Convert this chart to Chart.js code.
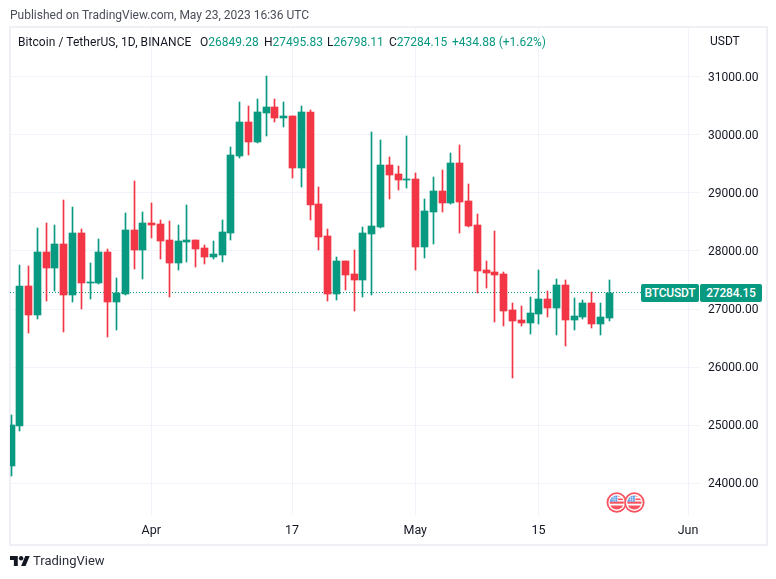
<!DOCTYPE html>
<html>
<head>
<meta charset="utf-8">
<script src="https://cdn.jsdelivr.net/npm/chart.js@4/dist/chart.umd.min.js"></script>
<style>
html,body{margin:0;padding:0;background:#fff;width:776px;height:579px;overflow:hidden}
body{position:relative;font-family:Roboto,sans-serif;font-size:12px;color:#131722}
#frame{position:absolute;left:9px;top:26px;width:755px;height:516px;border:2px solid #eff0f5;z-index:0}
canvas{position:absolute;left:0;top:0;z-index:1}
.t{position:absolute;white-space:nowrap;z-index:2;line-height:16px}
.g{color:#089981}
.tag{position:absolute;top:284px;height:18px;line-height:18px;background:#089981;color:#fff;text-align:center;z-index:2;font-weight:500;border-radius:2px;letter-spacing:-.2px}
svg{position:absolute;z-index:2}
</style>
</head>
<body>
<div id="frame"></div>
<canvas id="c" width="776" height="579"></canvas>
<div class="t" style="left:10px;top:7px;color:#4a4e59">Published on TradingView.com, May 23, 2023 16:36 UTC</div>
<div class="t" style="left:18px;top:34px;letter-spacing:.06px">Bitcoin / TetherUS, 1D, BINANCE</div>
<div class="t" style="left:200px;top:34px">O<span class="g">26849.28</span></div>
<div class="t" style="left:264px;top:34px">H<span class="g">27495.83</span></div>
<div class="t" style="left:327px;top:34px">L<span class="g">26798.11</span></div>
<div class="t" style="left:389px;top:34px">C<span class="g">27284.15</span></div>
<div class="t g" style="left:452px;top:34px">+434.88 (+1.62%)</div>
<div class="t" style="left:710px;top:33px">USDT</div>
<div class="tag" style="left:641px;width:58px">BTCUSDT</div>
<div class="tag" style="left:700px;width:62px">27284.15</div>
<svg style="left:10px;top:556px" width="20" height="10" viewBox="0 4 36 18"><path fill="#131722" d="M14 22H7V11H0V4h14v18zM28 22h-8l7.5-18h8L28 22z"/><circle fill="#131722" cx="20" cy="8" r="4"/></svg>
<div class="t" style="left:33px;top:553px;font-size:13px;color:#2a2e39">TradingView</div>
<script>
const openVals=[24290,24990,27400,26901,27985,27710,28123,27245,28312,27452,27452,27985,27125,27262,28364,28020,28484,28467,28192,27796,28157,28192,28054,27899,27934,28312,29637,30223,29878,30377,30481,30291,30326,29431,30395,28811,28261,27262,27830,27607,27503,28295,28416,29483,29328,29224,29242,28071,28674,29035,28829,29517,28863,28450,27675,27641,27607,26987,26815,26763,26918,27176,27022,27417,26815,26867,27108,26746,26849.28];
const highVals=[25180,27762,27744,28398,28484,28450,28880,28760,28381,27796,28209,28037,27538,28656,29207,28674,28829,28536,28519,28450,28794,28192,28106,28175,28536,29792,30567,30498,30618,31014,30618,30567,30326,30498,30429,29104,28381,27899,27830,28020,28416,30050,29913,29620,29465,29982,29345,28897,29276,29397,29689,29827,29156,28639,27830,28347,27641,27108,27056,27211,27675,27314,27521,27503,27194,27159,27297,27108,27495.83];
const lowVals=[24130,24905,26591,26832,27142,27314,26608,27125,27004,27176,27435,26522,26643,27245,27693,27521,28226,27865,27211,27675,27813,27727,27779,27865,27813,28192,29603,29655,29861,29982,30223,30137,29259,29104,28536,28020,27142,27159,27331,26970,27211,27245,28398,28897,29052,29087,27675,27882,28123,28674,28811,28312,28416,27280,27366,26781,26712,25817,26712,26574,26746,26867,26557,26368,26643,26832,26677,26557,26798.11];
const closeVals=[25008,27400,26901,27985,27710,28123,27245,28312,27452,27469,27985,27125,27280,28364,28020,28484,28450,28175,27796,28175,28192,28037,27899,27951,28329,29655,30223,29878,30395,30481,30291,30326,29431,30395,28794,28243,27262,27830,27589,27503,28312,28433,29483,29310,29224,29242,28071,28691,29035,28829,29517,28846,28433,27658,27624,27589,26970,26798,26763,26935,27176,27022,27417,26815,26884,27108,26746,26867,27284.15];
const yTicks=[24000,25000,26000,27000,28000,29000,30000,31000];
const xTicks=[16,32,46,60,77];
const xTickLabels=['Apr','17','May','15','Jun'];
const eventDays=[68.9,70.9];
const lastPrice=27284.15;

const UP='#089981',DOWN='#F23645';
const colors=openVals.map((o,i)=>closeVals[i]>=o?UP:DOWN);
const days=openVals.map((_,i)=>i);
const X_MIN=-0.05,X_MAX=78.36;

const snapPlugin={id:'snap',afterDatasetsUpdate(chart){
  chart.data.datasets.forEach((ds,di)=>{
    if(ds.type==='line')return;
    chart.getDatasetMeta(di).data.forEach(el=>{
      el.x=Math.max(Math.round(el.x),11)+0.5;
      el.y=Math.round(el.y);
      el.base=Math.round(el.base);
      if(Math.abs(el.base-el.y)<1)el.base=el.y+1;
    });
  });
}};
const labelShiftPlugin={id:'labelShift',afterLayout(chart){
  const s=chart.scales.y;
  if(s._shifted)return;
  s._shifted=true;
  const orig=s.drawLabels;
  s.drawLabels=function(area){
    const c=this.ctx;c.save();c.translate(0,1);orig.call(this,area);c.restore();
  };
}};
const flagPlugin={id:'flags',afterDraw(chart){
  const ctx=chart.ctx,sx=chart.scales.x,cy=502.5,r=9.3;
  eventDays.forEach(d=>{
    const cx=sx.getPixelForValue(d);
    ctx.save();
    ctx.beginPath();ctx.arc(cx,cy,r,0,Math.PI*2);ctx.fillStyle='#fff';ctx.fill();
    ctx.strokeStyle='#f7525f';ctx.lineWidth=1.8;ctx.stroke();
    ctx.beginPath();ctx.arc(cx,cy,r-2.2,0,Math.PI*2);ctx.clip();
    ctx.fillStyle='#f7525f';
    ctx.fillRect(cx-8,cy-1,16,2.2);ctx.fillRect(cx-8,cy+3,16,5);
    ctx.fillRect(cx+1,cy-8,8,2);ctx.fillRect(cx+1,cy-4,8,1.6);
    ctx.fillStyle='#4a90e2';ctx.fillRect(cx-8,cy-8,8.5,7);
    ctx.fillStyle='rgba(255,255,255,.7)';
    ctx.fillRect(cx-8,cy-5,8.5,.7);ctx.fillRect(cx-8,cy-3,8.5,.7);
    ctx.fillRect(cx-4,cy-8,.7,7);ctx.fillRect(cx-2,cy-8,.7,7);
    ctx.restore();
  });
}};

new Chart(document.getElementById('c'),{
  type:'bar',
  data:{datasets:[
    {type:'bar',label:'body',order:1,grouped:false,barThickness:7,backgroundColor:colors,
     data:days.map(i=>({x:i,y:[openVals[i],closeVals[i]]}))},
    {type:'bar',label:'wick',order:2,grouped:false,barThickness:1,backgroundColor:colors,
     data:days.map(i=>({x:i,y:[lowVals[i],highVals[i]]}))},
    {type:'line',label:'last',order:3,borderColor:UP,borderWidth:1,borderDash:[1,2],pointRadius:0,
     data:[{x:X_MIN,y:lastPrice},{x:X_MAX,y:lastPrice}]}
  ]},
  options:{
    responsive:false,animation:false,devicePixelRatio:1,
    layout:{padding:{left:10,top:27,right:10,bottom:35}},
    plugins:{legend:{display:false},tooltip:{enabled:false}},
    scales:{
      x:{type:'linear',position:'bottom',min:X_MIN,max:X_MAX,offset:false,
        afterBuildTicks(s){s.ticks=xTicks.map(v=>({value:v}));},
        afterFit(s){s.height=29;},
        grid:{color:'#f0f3fa',drawTicks:false,offset:false},border:{display:false},
        ticks:{autoSkip:false,maxRotation:0,padding:8,color:'#131722',font:{family:'Roboto',size:12.5},
          callback(v){return xTickLabels[xTicks.indexOf(v)];}}},
      y:{type:'linear',position:'right',min:23455,max:31854,
        afterBuildTicks(s){s.ticks=yTicks.map(v=>({value:v}));},
        afterFit(s){s.width=66;},
        grid:{color:'#f0f3fa',drawTicks:false},border:{display:false},
        ticks:{padding:8,color:'#131722',font:{family:'Roboto',size:12},
          callback(v){return v.toFixed(2);}}}
    }
  },
  plugins:[snapPlugin,labelShiftPlugin,flagPlugin]
});
</script>
</body>
</html>
